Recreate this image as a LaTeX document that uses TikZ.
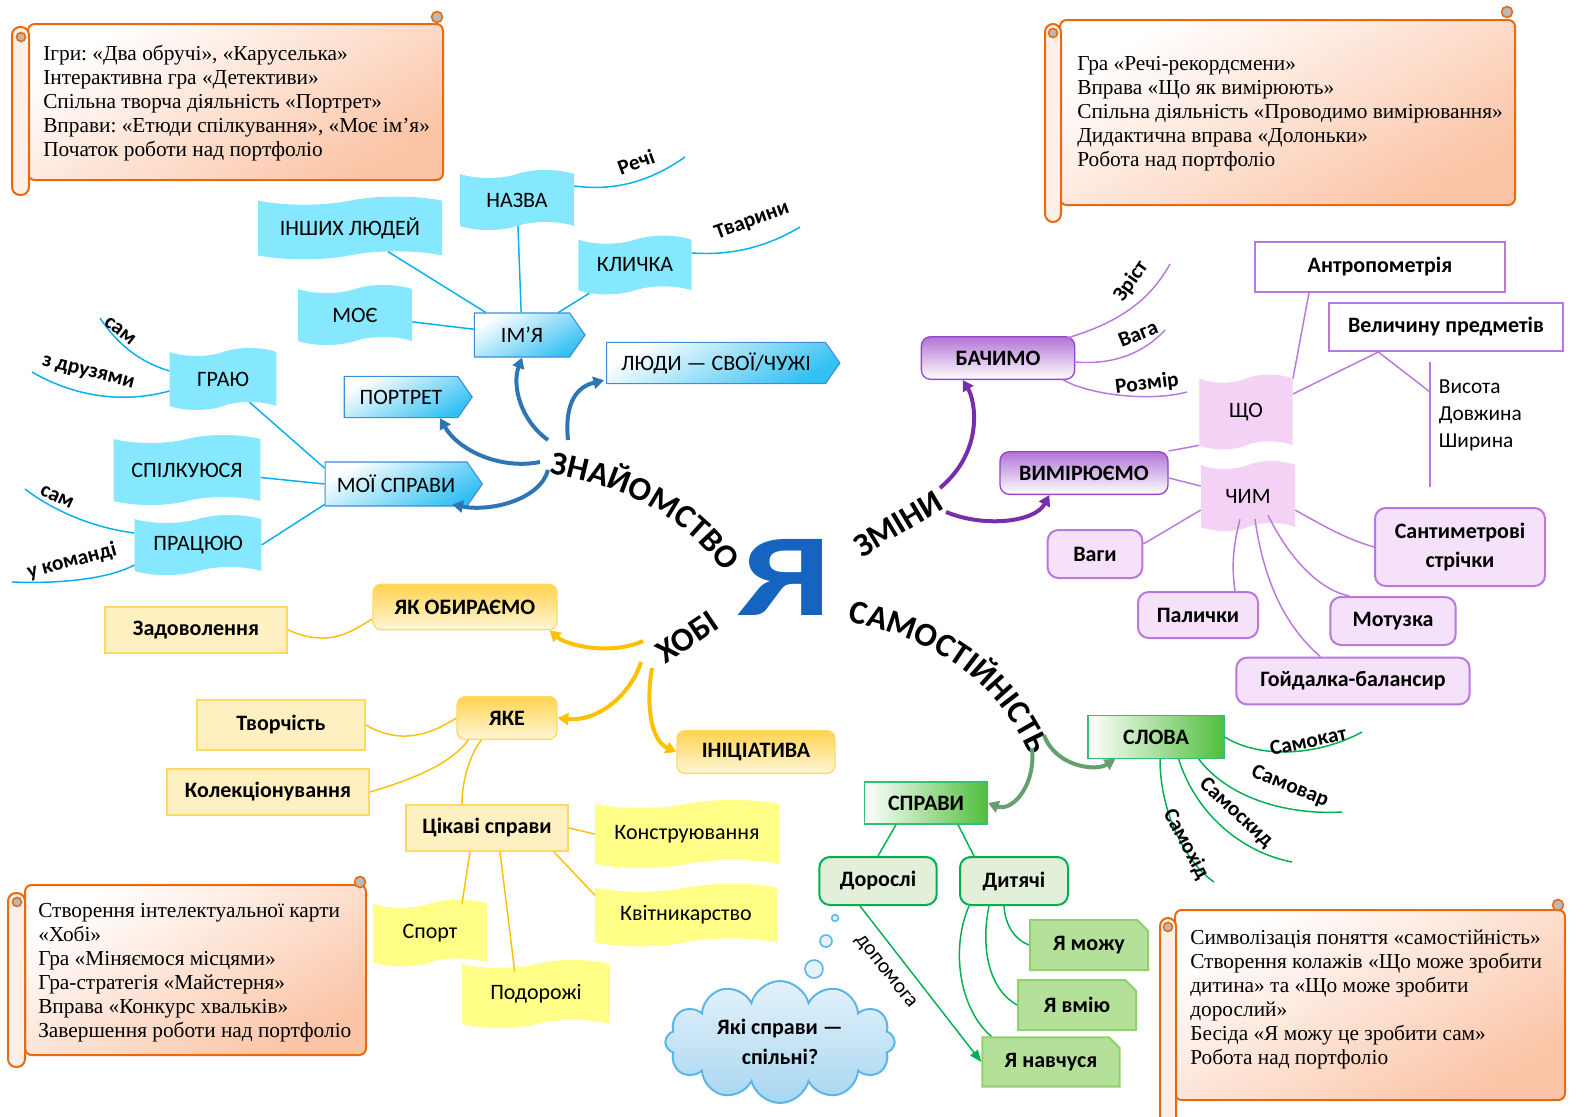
\documentclass[tikz,border=0pt]{standalone}
\usepackage{fontspec}
\usepackage{graphicx}
\setmainfont{Liberation Serif}
\newfontfamily\labelfont{Carlito}
\usetikzlibrary{shapes.symbols,shapes.misc,arrows.meta,decorations.text,calc}
\frenchspacing

\definecolor{bline}{RGB}{0,176,240}
\definecolor{btape}{RGB}{134,232,254}
\definecolor{bborder}{RGB}{62,140,214}
\definecolor{bribbon}{RGB}{46,117,182}
\definecolor{pline}{RGB}{186,120,222}
\definecolor{pdark}{RGB}{150,70,200}
\definecolor{ptape}{RGB}{244,210,246}
\definecolor{pfill}{RGB}{245,225,250}
\definecolor{pribbon}{RGB}{120,45,170}
\definecolor{yline}{RGB}{255,192,0}
\definecolor{ytop}{RGB}{255,212,80}
\definecolor{ybot}{RGB}{255,246,215}
\definecolor{yfill}{RGB}{255,240,194}
\definecolor{yborder}{RGB}{255,217,102}
\definecolor{ytape}{RGB}{255,255,136}
\definecolor{gline}{RGB}{0,176,80}
\definecolor{gdark}{RGB}{80,190,60}
\definecolor{gfill}{RGB}{226,240,217}
\definecolor{gcut}{RGB}{181,224,154}
\definecolor{gcutborder}{RGB}{143,209,106}
\definecolor{gribbon}{RGB}{100,160,110}
\definecolor{oline}{RGB}{232,106,16}
\definecolor{opeach}{RGB}{251,196,166}
\definecolor{yablue}{RGB}{21,101,192}
\definecolor{cloudb}{RGB}{91,181,232}
\definecolor{cloudtop}{RGB}{228,242,252}
\definecolor{cloudbot}{RGB}{168,214,240}

\newcommand{\titlefont}{\labelfont\bfseries\fontsize{25}{25}\selectfont}

\tikzset{
  lbl/.style={font=\labelfont\fontsize{16.5}{19}\selectfont, inner sep=2pt, align=center},
  lblb/.style={lbl, font=\labelfont\bfseries\fontsize{16.5}{22}\selectfont},
  leaf/.style={font=\labelfont\bfseries\fontsize{16}{18}\selectfont, inner sep=1pt},
  leafn/.style={font=\labelfont\fontsize{16}{18}\selectfont, inner sep=1pt},
  scrollbody/.style={draw=oline, line width=1.5pt, rounded corners=5pt, top color=white, bottom color=opeach, shading angle=30},
  scrollroll/.style={draw=oline, line width=1.5pt, rounded corners=6pt, fill=white!75!opeach},
  scrollcurl/.style={draw=oline, line width=1.2pt, fill=gray!55},
  scrolltext/.style={anchor=north west, inner sep=0pt, align=left, font=\fontsize{16}{18}\selectfont},
  titletext/.style={decorate, decoration={text along path, text align=center, text={|\titlefont|#1}}},
  titlenode/.style={font=\titlefont, inner sep=0pt},
  yaletter/.style={font=\labelfont\bfseries\fontsize{88}{88}\selectfont, text=yablue, inner sep=0pt},
  ribbon/.style={line width=3pt, -{Triangle[length=8pt,width=9pt]}},
  bbranch/.style={draw=bline, line width=1.1pt},
  pbranch/.style={draw=pline, line width=1.1pt},
  ybranch/.style={draw=yline, line width=1.1pt},
  gbranch/.style={draw=gline, line width=1.1pt},
  sigbox/.style={lbl, signal, signal to=east, signal pointer angle=110, draw=bborder, line width=0.8pt, top color=white, bottom color=bline!80, shading angle=30},
  tapeb/.style={lbl, tape, fill=btape, tape bend height=6pt},
  pbox/.style={lblb, rounded corners=7pt, draw=pdark, line width=1pt, top color=pdark!75, bottom color=white},
  pwhite/.style={lblb, draw=pline, line width=1.5pt, fill=white},
  plight/.style={lblb, rounded corners=8pt, draw=pline, line width=1.5pt, fill=pfill},
  ptapebox/.style={lbl, tape, fill=ptape, tape bend height=6pt},
  ybox/.style={lblb, rounded corners=6pt, draw=yborder, line width=1pt, top color=ytop, bottom color=ybot},
  ylight/.style={lblb, draw=yborder, line width=1.5pt, fill=yfill},
  ytapebox/.style={lbl, tape, fill=ytape, tape bend height=6pt},
  gbox/.style={lblb, draw=gline!80, line width=1pt, left color=white, right color=gdark},
  glight/.style={lblb, rounded corners=8pt, draw=gline, line width=1.5pt, fill=gfill},
  gcutbox/.style={lblb, chamfered rectangle, chamfered rectangle corners=north east, chamfered rectangle xsep=5pt, draw=gcutborder, line width=1.5pt, fill=gcut},
  cloudbox/.style={lblb, cloud, cloud puffs=12, aspect=2.1, draw=cloudb, line width=1.5pt, top color=cloudtop, bottom color=cloudbot},
  bubble/.style={circle, draw=cloudb, line width=1.2pt, fill=cloudtop, inner sep=0pt}
}

\begin{document}
\begin{tikzpicture}[x=0.75pt,y=0.75pt,yscale=-1,xscale=1]
\useasboundingbox (0,0) rectangle (1592,1117);

% scrolls
\draw [scrollbody] (28,24) rectangle (443,180);
\draw [scrollroll] (12,27) rectangle (29,195);
\draw [scrollcurl] (21,37) circle (4.5);
\draw [scrollcurl] (437,17) circle (5.5);
\draw (43,45) node [scrolltext] (plan1) {Ігри: «Два обручі», «Каруселька»\\Інтерактивна гра «Детективи»\\Спільна творча діяльність «Портрет»\\Вправи: «Етюди спілкування», «Моє ім’я»\\Початок роботи над портфоліо};

\draw [scrollbody] (1060,20) rectangle (1515,205);
\draw [scrollroll] (1045,24) rectangle (1061,222);
\draw [scrollcurl] (1053,33) circle (4.5);
\draw [scrollcurl] (1507,12) circle (5.5);
\draw (1077,56) node [scrolltext] (plan2) {Гра «Речі-рекордсмени»\\Вправа «Що як вимірюють»\\Спільна діяльність «Проводимо вимірювання»\\Дидактична вправа «Долоньки»\\Робота над портфоліо};

\draw [scrollbody] (25,885) rectangle (366,1055);
\draw [scrollroll] (8,893) rectangle (25,1067);
\draw [scrollcurl] (17,902) circle (4.5);
\draw [scrollcurl] (360,882) circle (5.5);
\draw (38,903) node [scrolltext] (plan3) {Створення інтелектуальної карти\\«Хобі»\\Гра «Міняємося місцями»\\Гра-стратегія «Майстерня»\\Вправа «Конкурс хвальків»\\Завершення роботи над портфоліо};

\draw [scrollbody] (1175,910) rectangle (1565,1100);
\draw [scrollroll] (1160,918) rectangle (1176,1125);
\draw [scrollcurl] (1168,927) circle (4.5);
\draw [scrollcurl] (1558,905) circle (5.5);
\draw (1190,930) node [scrolltext] (plan4) {Символізація поняття «самостійність»\\Створення колажів «Що може зробити\\дитина» та «Що може зробити\\дорослий»\\Бесіда «Я можу це зробити сам»\\Робота над портфоліо};

% centre
\draw (785,577) node [yaletter] (ya) {\scalebox{1.38}[1]{Я}};
\path [titletext=ЗНАЙОМСТВО] (553,474) .. controls (625,487) and (682,515) .. (722,570);
\path [titletext=САМОСТІЙНІСТЬ] (849,622) .. controls (930,640) and (992,672) .. (1030,755);
\draw (898,524) node [titlenode, rotate=31] (zminy) {ЗМІНИ};
\draw (687,637) node [titlenode, rotate=34] (hobi) {ХОБІ};

% znaiomstvo
\draw (522,335) node [sigbox, minimum width=83pt, minimum height=33pt] (imya) {ІМ’Я};
\draw (401,397) node [sigbox, minimum width=96pt, minimum height=31pt] (portret) {ПОРТРЕТ};
\draw (396,484) node [sigbox, minimum width=118pt, minimum height=33pt] (mojispravy) {МОЇ СПРАВИ};
\draw (716,363) node [sigbox, minimum width=175pt, minimum height=31pt] (lyudy) {ЛЮДИ — СВОЇ/ЧУЖІ};
\draw (517,200) node [tapeb, minimum width=85.5pt, minimum height=45pt] (nazva) {НАЗВА};
\draw (350,228) node [tapeb, minimum width=138pt, minimum height=47pt] (inshykh) {ІНШИХ ЛЮДЕЙ};
\draw (635,265) node [tapeb, minimum width=85pt, minimum height=44pt] (klychka) {КЛИЧКА};
\draw (355,315) node [tapeb, minimum width=85.5pt, minimum height=45pt] (moye) {МОЄ};
\draw (223,379) node [tapeb, minimum width=80pt, minimum height=46.5pt] (hrayu) {ГРАЮ};
\draw (187,470) node [tapeb, minimum width=110pt, minimum height=52.5pt] (spilk) {СПІЛКУЮСЯ};
\draw (198,545) node [tapeb, minimum width=95pt, minimum height=45pt] (pratsyuyu) {ПРАЦЮЮ};

\draw [bbranch] (imya) -- (inshykh);
\draw [bbranch] (imya) -- (moye);
\draw [bbranch] (imya) -- (nazva);
\draw [bbranch] (imya) -- (klychka);
\draw [bbranch] ($(mojispravy.west)+(0,-16)$) -- (hrayu);
\draw [bbranch] (mojispravy.west) -- (spilk);
\draw [bbranch] ($(mojispravy.south west)+(0,-2)$) -- (pratsyuyu.east);

\coordinate (rechiEnd) at (685,157);
\coordinate (tvarynyEnd) at (800,227);
\coordinate (samA) at (100,318);
\coordinate (druzEnd) at (32,372);
\coordinate (samB) at (25,489);
\coordinate (komandEnd) at (12,582);
\draw [bbranch] ($(nazva.east)+(0,-14)$) .. controls (620,192) and (655,178) .. (rechiEnd);
\draw [bbranch] ($(klychka.east)+(0,-12)$) .. controls (735,256) and (770,245) .. (tvarynyEnd);
\draw [bbranch] (samA) .. controls (118,345) and (140,362) .. ($(hrayu.west)+(0,-8)$);
\draw [bbranch] (druzEnd) .. controls (80,400) and (130,402) .. ($(hrayu.west)+(0,12)$);
\draw [bbranch] (samB) .. controls (55,512) and (95,528) .. ($(pratsyuyu.west)+(0,-12)$);
\draw [bbranch] (komandEnd) .. controls (65,584) and (110,578) .. ($(pratsyuyu.west)+(0,20)$);
\draw (636,162) node [leaf, rotate=20] (rechi) {Речі};
\draw (752,221) node [leaf, rotate=20] (tvaryny) {Тварини};
\draw (120,331) node [leaf, rotate=-38] (sam1) {сам};
\draw (88,373) node [leaf, rotate=-14] (druz) {з друзями};
\draw (57,497) node [leaf, rotate=-25] (sam2) {сам};
\draw (72,561) node [leaf, rotate=15] (komand) {у команді};

\coordinate (znImya) at (548,440);
\coordinate (znPort) at (540,462);
\coordinate (znMoji) at (548,470);
\coordinate (znLyudy) at (568,440);
\draw [ribbon, bribbon] (znImya) .. controls (520,420) and (512,385) .. (imya.south);
\draw [ribbon, bribbon] (znPort) .. controls (500,470) and (458,450) .. ($(portret.south east)+(-18,0)$);
\draw [ribbon, bribbon] (znMoji) .. controls (540,500) and (490,512) .. ($(mojispravy.south east)+(-15,-2)$);
\draw [ribbon, bribbon] (znLyudy) .. controls (565,410) and (572,388) .. ($(lyudy.south west)+(-2,-4)$);

% zminy
\draw (998,358) node [pbox, minimum width=115pt, minimum height=32pt] (bachymo) {БАЧИМО};
\draw (1084,473) node [pbox, minimum width=126pt, minimum height=32pt] (vymir) {ВИМІРЮЄМО};
\draw (1246,412) node [ptapebox, minimum width=70pt, minimum height=56pt] (shcho) {ЩО};
\draw (1248,496) node [ptapebox, minimum width=70.5pt, minimum height=52.5pt] (chym) {ЧИМ};
\draw (1380,267) node [pwhite, minimum width=187.5pt, minimum height=37pt] (antrop) {Антропометрія};
\draw (1446,327) node [pwhite, minimum width=175pt, minimum height=36pt] (velych) {Величину предметів};
\draw (1436,377) node [anchor=north west, lbl, align=left, font=\labelfont\fontsize{16}{20.25}\selectfont] (vymiry) {Висота\\Довжина\\Ширина};
\draw (1095,554) node [plight, minimum width=71pt, minimum height=36pt] (vagy) {Ваги};
\draw (1198,615) node [plight, minimum width=90pt, minimum height=34.5pt] (palychky) {Палички};
\draw (1393,621) node [plight, minimum width=94pt, minimum height=36pt] (motuz) {Мотузка};
\draw (1353,681) node [plight, minimum width=175pt, minimum height=35pt] (hojd) {Гойдалка-балансир};
\draw (1460,547) node [plight, minimum width=127.5pt, minimum height=58.5pt] (santym) {Сантиметрові\\стрічки};

\coordinate (barTop) at (1430,362);
\coordinate (barBot) at (1430,487);
\draw [pbranch] (shcho.north east) -- ($(antrop.south west)+(55,0)$);
\draw [pbranch] ($(shcho.east)+(0,-18)$) -- ($(velych.south west)+(50,0)$) -- (1430,392);
\draw [pbranch] (barTop) -- (barBot);
\draw [pbranch] (shcho.south west) -- (vymir.north east);
\draw [pbranch] ($(chym.west)+(0,-10)$) -- ($(vymir.east)+(0,5)$);
\draw [pbranch] ($(chym.west)+(0,14)$) -- ($(vagy.east)+(0,-10)$);
\draw [pbranch] ($(chym.south)+(-8,-8)$) .. controls (1232,550) and (1232,570) .. ($(palychky.north)+(37,0)$);
\draw [pbranch] ($(chym.south)+(7,-8)$) .. controls (1265,590) and (1290,630) .. ($(hojd.north west)+(85,0)$);
\draw [pbranch] ($(chym.south)+(20,-12)$) .. controls (1290,560) and (1320,590) .. ($(motuz.north west)+(20,0)$);
\draw [pbranch] ($(chym.east)+(0,14)$) .. controls (1330,530) and (1350,540) .. (santym.west);

\coordinate (zristEnd) at (1170,264);
\coordinate (vahaEnd) at (1165,330);
\coordinate (rozmirEnd) at (1187,392);
\draw [pbranch] ($(bachymo.north east)+(-8,2)$) .. controls (1120,322) and (1150,300) .. (zristEnd);
\draw [pbranch] ($(bachymo.east)+(0,4)$) .. controls (1110,365) and (1142,355) .. (vahaEnd);
\draw [pbranch] ($(bachymo.south east)+(-12,0)$) .. controls (1090,395) and (1150,402) .. (rozmirEnd);
\draw (1131,281) node [leaf, rotate=55] (zrist) {Зріст};
\draw (1138,334) node [leaf, rotate=22] (vaha) {Вага};
\draw (1147,384) node [leaf, rotate=7] (rozmir) {Розмір};

\coordinate (zmBach) at (940,488);
\coordinate (zmVym) at (946,512);
\draw [ribbon, pribbon] (zmBach) .. controls (985,450) and (975,400) .. ($(bachymo.south west)+(42,0)$);
\draw [ribbon, pribbon] (zmVym) .. controls (985,528) and (1035,522) .. ($(vymir.south west)+(50,0)$);

% hobi
\draw (465,607) node [ybox, minimum width=138pt, minimum height=34pt] (yakobyr) {ЯК ОБИРАЄМО};
\draw (507,718) node [ybox, minimum width=75pt, minimum height=32pt] (yake) {ЯКЕ};
\draw (756,752) node [ybox, minimum width=118.5pt, minimum height=32pt] (initsiat) {ІНІЦІАТИВА};
\draw (196,630) node [ylight, minimum width=136.5pt, minimum height=35pt] (zadov) {Задоволення};
\draw (281,725) node [ylight, minimum width=126pt, minimum height=37pt] (tvorch) {Творчість};
\draw (268,792) node [ylight, minimum width=151.5pt, minimum height=35pt] (kolek) {Колекціонування};
\draw (487,828) node [ylight, minimum width=121.5pt, minimum height=34.5pt] (tsikavi) {Цікаві справи};
\draw (687,834) node [ytapebox, minimum width=138pt, minimum height=51pt] (konstr) {Конструювання};
\draw (686,915) node [ytapebox, minimum width=136.5pt, minimum height=47pt] (kvitn) {Квітникарство};
\draw (430,933) node [ytapebox, minimum width=85.5pt, minimum height=50pt] (sport) {Спорт};
\draw (536,994) node [ytapebox, minimum width=111pt, minimum height=51pt] (podor) {Подорожі};

\draw [ybranch] (zadov.east) .. controls (330,648) and (350,632) .. ($(yakobyr.west)+(0,12)$);
\draw [ybranch] (tvorch.east) .. controls (400,745) and (430,735) .. (yake.west);
\draw [ybranch] (kolek.east) .. controls (410,780) and (450,765) .. ($(yake.south west)+(12,0)$);
\draw [ybranch] ($(tsikavi.north)+(-25,0)$) .. controls (462,780) and (470,755) .. ($(yake.south west)+(25,0)$);
\draw [ybranch] (tsikavi.east) -- (konstr.west);
\draw [ybranch] ($(tsikavi.south east)+(-15,0)$) -- ($(kvitn.west)+(0,-20)$);
\draw [ybranch] ($(tsikavi.south)+(-17,0)$) -- ($(sport.north)+(32,0)$);
\draw [ybranch] ($(tsikavi.south)+(13,0)$) -- ($(podor.north west)+(53,8)$);

\coordinate (hobYak) at (643,641);
\coordinate (hobYake) at (641,662);
\coordinate (hobInit) at (652,668);
\draw [ribbon, yline] (hobYak) .. controls (610,656) and (566,645) .. ($(yakobyr.south east)+(-8,0)$);
\draw [ribbon, yline] (hobYake) .. controls (632,692) and (600,722) .. (yake.east);
\draw [ribbon, yline] (hobInit) .. controls (646,702) and (650,740) .. (initsiat.west);

% samostiinist
\draw (1156,737) node [gbox, minimum width=102pt, minimum height=32pt] (slova) {СЛОВА};
\draw (926,803) node [gbox, minimum width=92pt, minimum height=31.5pt] (spravy) {СПРАВИ};
\draw (878,881) node [glight, minimum width=88pt, minimum height=36pt] (dorosli) {Дорослі};
\draw (1014,881) node [glight, minimum width=81pt, minimum height=36pt] (dytyachi) {Дитячі};
\draw (1089,945) node [gcutbox, minimum width=88.5pt, minimum height=37.5pt] (yamozhu) {Я можу};
\draw (1077,1005) node [gcutbox, minimum width=88.5pt, minimum height=37.5pt] (yavmiyu) {Я вмію};
\draw (1051,1062) node [gcutbox, minimum width=103pt, minimum height=37pt] (yanavch) {Я навчуся};

\coordinate (samokatEnd) at (1362,732);
\coordinate (samovarEnd) at (1342,812);
\coordinate (samoskydEnd) at (1292,862);
\coordinate (samokhidEnd) at (1214,882);
\draw [gbranch] (slova.east) .. controls (1262,760) and (1320,755) .. (samokatEnd);
\draw [gbranch] ($(slova.south east)+(-26,0)$) .. controls (1230,800) and (1290,815) .. (samovarEnd);
\draw [gbranch] ($(slova.south east)+(-46,0)$) .. controls (1195,812) and (1240,852) .. (samoskydEnd);
\draw [gbranch] ($(slova.south)+(4,0)$) .. controls (1160,812) and (1185,862) .. (samokhidEnd);
\draw (1308,741) node [leaf, rotate=12] (samokat) {Самокат};
\draw (1290,787) node [leaf, rotate=-22] (samovar) {Самовар};
\draw (1236,813) node [leaf, rotate=-43] (samoskyd) {Самоскид};
\draw (1186,844) node [leaf, rotate=-62] (samokhid) {Самохід};

\draw [gbranch] ($(spravy.south west)+(32,0)$) -- (dorosli.north);
\draw [gbranch] ($(spravy.south east)+(-30,0)$) -- ($(dytyachi.north west)+(15,0)$);
\draw [gbranch] ($(dytyachi.south)+(-10,0)$) .. controls (1005,925) and (1015,940) .. (yamozhu.west);
\draw [gbranch] ($(dytyachi.south)+(-25,0)$) .. controls (980,950) and (990,990) .. (yavmiyu.west);
\draw [gbranch] ($(dytyachi.south west)+(10,0)$) .. controls (950,950) and (960,1010) .. ($(yanavch.north west)+(10,0)$);
\draw [gbranch, -{Triangle[length=9pt,width=7pt]}] ($(dorosli.south)+(-18,0)$) -- (yanavch.west);
\draw (885,972) node [leafn, rotate=-52] (dopom) {допомога};

\coordinate (samSlova) at (1044,735);
\coordinate (samSprav) at (1032,748);
\draw [ribbon, gribbon] (samSlova) .. controls (1055,766) and (1095,772) .. ($(slova.south west)+(28,0)$);
\draw [ribbon, gribbon] (samSprav) .. controls (1036,786) and (1012,812) .. (spravy.east);

% cloud
\draw (780,1042) node [cloudbox, minimum width=172pt, minimum height=82pt] (cloud) {Які справи —\\спільні?};
\draw (835,918) node [bubble, minimum size=5pt] (bub1) {};
\draw (826,941) node [bubble, minimum size=9pt] (bub2) {};
\draw (814,969) node [bubble, minimum size=13.5pt] (bub3) {};
\end{tikzpicture}
\end{document}
